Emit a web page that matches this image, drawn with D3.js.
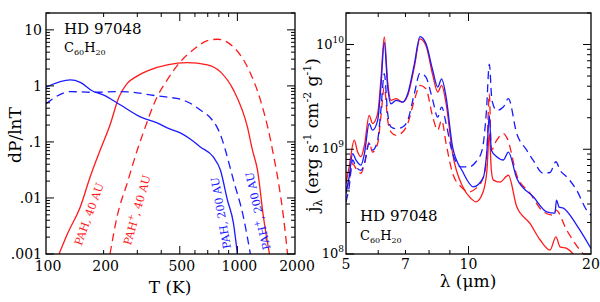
<!DOCTYPE html>
<html>
<head>
<meta charset="utf-8">
<script src="https://cdn.jsdelivr.net/npm/d3@7"></script>
<style>
  body { margin: 0; background: #fff; }
  svg { display: block; }
  text { font-family: "DejaVu Serif", "Liberation Serif", serif; fill: #000; }
</style>
</head>
<body>
<svg id="chart" width="600" height="302"></svg>
<script>
// ---- left panel: dP/lnT vs T ----
var pahNeu40 = [[117,0.001],[130,0.00237],[151,0.0069],[170,0.0237],[192,0.072],[216,0.2],[240,0.62],[265,1.1],[295,1.45],[350,1.93],[430,2.37],[547,2.6],[697,2.37],[815,1.78],[953,0.85],[1128,0.185],[1198,0.072],[1273,0.0316],[1368,0.0046],[1471,0.001]];
var pahIon40 = [[216,0.001],[235,0.0046],[266,0.0187],[300,0.072],[322,0.145],[381,0.64],[430,1.28],[503,2.68],[588,4.4],[697,6.4],[786,6.8],[953,4.97],[1128,2.18],[1319,0.56],[1489,0.109],[1525,0.072],[1640,0.0187],[1741,0.0046],[1828,0.001]];
var pahNeu200 = [[100,0.95],[134,1.28],[151,1.16],[174,0.82],[199,0.69],[244,0.46],[311,0.28],[381,0.218],[430,0.178],[503,0.145],[567,0.113],[640,0.0815],[748,0.054],[815,0.0316],[887,0.0092],[953,0.0036],[1000,0.001]];
var pahIon200 = [[100,0.48],[134,0.79],[176,0.77],[235,0.79],[285,0.77],[350,0.69],[430,0.63],[503,0.58],[567,0.49],[640,0.37],[722,0.27],[786,0.178],[834,0.109],[865,0.072],[953,0.021],[1075,0.0046],[1169,0.001]];

var tempTicks = [100, 200, 500, 1000, 2000];
var tempMinor = [200, 300, 400, 600, 700, 800, 900];
var tempMajor = [500, 1000];
var probTicks = [10, 1, 0.1, 0.01, 0.001];
var probLabels = ["10", "1", ".1", ".01", ".001"];

// ---- right panel: j_lambda vs lambda ----
var specNeu40 = [[5.00,4.71e8],[5.09,6.8e8],[5.24,1.22e9],[5.34,9.4e8],[5.44,8.5e8],[5.55,1.09e9],[5.70,2.11e9],[5.81,1.76e9],[5.98,2.19e9],[6.09,4.54e9],[6.21,1.18e10],[6.33,4.37e9],[6.45,2.93e9],[6.64,3.04e9],[6.89,2.82e9],[7.09,3.27e9],[7.36,6.1e9],[7.60,1.13e10],[7.86,9.8e9],[8.17,5.07e9],[8.40,3.52e9],[8.59,4.07e9],[8.81,2.72e9],[9.14,9.1e8],[9.68,4.38e8],[10.14,3.39e8],[10.43,3.15e8],[10.86,3.9e8],[11.1,6.3e8],[11.25,1.41e9],[11.38,6.3e8],[11.51,5.07e8],[11.95,4.85e8],[12.53,5.65e8],[13.14,2.82e8],[14.16,1.96e8],[15.0,1.36e8],[15.86,1.09e8],[16.4,1.46e8],[16.79,1.17e8],[17.43,1.13e8],[18.07,1.0e8],[18.6,8.4e7]];
var specIon40 = [[5.00,4.07e8],[5.09,5.07e8],[5.19,7.3e8],[5.29,6.55e8],[5.44,5.9e8],[5.55,7.3e8],[5.70,1.17e9],[5.81,9.4e8],[5.98,1.13e9],[6.09,2.03e9],[6.21,3.92e9],[6.33,1.89e9],[6.45,1.46e9],[6.64,1.36e9],[6.89,1.46e9],[7.09,1.76e9],[7.36,2.93e9],[7.60,4.07e9],[7.86,3.78e9],[8.17,2.03e9],[8.40,1.52e9],[8.59,1.89e9],[8.81,1.13e9],[9.14,5.9e8],[9.59,4.38e8],[10.04,3.92e8],[10.43,4.23e8],[10.8,5.07e8],[11.07,7.9e8],[11.25,3.39e9],[11.38,9.8e8],[11.73,1.22e9],[12.18,1.41e9],[12.45,1.27e9],[13.14,5.65e8],[14.16,3.81e8],[15.27,2.53e8],[16.15,2.35e8],[16.4,2.62e8],[17.43,1.69e8],[18.79,1.09e8],[19.14,1.0e8],[19.6,8.5e7]];
var specNeu200 = [[5.00,3.79e8],[5.09,5.45e8],[5.19,9.1e8],[5.29,7.9e8],[5.44,7.05e8],[5.55,9.1e8],[5.70,1.76e9],[5.81,1.52e9],[5.98,1.89e9],[6.09,3.92e9],[6.21,1.05e10],[6.33,3.92e9],[6.45,2.72e9],[6.64,2.93e9],[6.89,2.82e9],[7.09,3.39e9],[7.36,6.5e9],[7.60,1.19e10],[7.86,1.02e10],[8.17,5.65e9],[8.40,3.92e9],[8.59,4.71e9],[8.81,3.15e9],[9.14,1.05e9],[9.68,6.1e8],[10.28,4.38e8],[10.86,5.3e8],[11.1,9.8e8],[11.25,2.11e9],[11.38,9.8e8],[11.73,8.5e8],[12.18,7.9e8],[12.53,9.4e8],[13.14,5.3e8],[14.43,3.52e8],[15.57,2.53e8],[16.31,2.46e8],[16.45,3.27e8],[16.7,2.8e8],[17.10,2.74e8],[18.44,1.89e8],[20,1.13e8]];
var specIon200 = [[5.00,3.15e8],[5.09,4.38e8],[5.19,7.9e8],[5.29,6.8e8],[5.44,6.3e8],[5.55,7.3e8],[5.70,1.13e9],[5.81,9.8e8],[5.98,1.22e9],[6.09,2.35e9],[6.21,5.26e9],[6.33,2.19e9],[6.45,1.63e9],[6.64,1.57e9],[6.89,1.63e9],[7.09,1.89e9],[7.36,3.39e9],[7.60,5.33e9],[7.86,4.88e9],[8.17,2.93e9],[8.40,2.03e9],[8.59,2.53e9],[8.81,1.76e9],[9.14,9.1e8],[9.59,6.8e8],[10.04,6.8e8],[10.43,7.6e8],[10.8,9.8e8],[11.07,2.35e9],[11.25,6.5e9],[11.42,2.93e9],[11.73,2.35e9],[12.18,2.53e9],[12.53,3.04e9],[13.14,1.41e9],[13.90,9.8e8],[14.4,7.9e8],[15.27,5.9e8],[15.86,6.0e8],[16.4,7.6e8],[16.79,6.3e8],[17.43,5.45e8],[18.44,4.07e8],[19.51,2.62e8],[20,2.35e8]];

var lamTicks = [5, 7, 10, 20];
var lamMinor = [6, 7, 8, 9];
var lamMajor = [10];
var jTicks = [1e8, 1e9, 1e10];
var jExp = ["8", "9", "10"];

var red = "#ff1a1a", blue = "#1a1aff";
var svg = d3.select("#chart");

function decadeMinors(lo, hi){
  var out = [];
  for (var d = lo; d < hi; d *= 10){
    for (var k = 2; k <= 9; k++){ if (d*k <= hi) out.push(d*k); }
  }
  return out;
}

function frame(g, x, y, id){
  var x0 = x.range()[0], x1 = x.range()[1], y0 = y.range()[0], y1 = y.range()[1];
  g.append("clipPath").attr("id", id).append("rect")
    .attr("x", x0).attr("y", y1).attr("width", x1-x0).attr("height", y0-y1);
  g.append("rect").attr("x", x0).attr("y", y1).attr("width", x1-x0).attr("height", y0-y1)
    .attr("fill", "none").attr("stroke", "#000").attr("stroke-width", 1.3);
}

function tick(g, x1, y1, x2, y2){
  g.append("line").attr("x1", x1).attr("y1", y1).attr("x2", x2).attr("y2", y2)
    .attr("stroke", "#000").attr("stroke-width", 1);
}

function curves(g, x, y, id, list){
  var line = d3.line().curve(d3.curveMonotoneX)
    .x(function(d){return x(d[0]);}).y(function(d){return y(d[1]);});
  var cg = g.append("g").attr("clip-path", "url(#" + id + ")");
  list.forEach(function(c){
    cg.append("path").datum(c.data).attr("d", line)
      .attr("fill", "none").attr("stroke", c.color).attr("stroke-width", 1.3)
      .attr("stroke-dasharray", c.dash ? "8,5" : null);
  });
}

// ================= LEFT =================
var xT = d3.scaleLog().domain([100, 2000]).range([46, 295]);
var yP = d3.scaleLog().domain([0.001, 20]).range([254, 13]);
var gl = svg.append("g");

curves(gl, xT, yP, "clipL", [
  {data: pahNeu40, color: red, dash: false},
  {data: pahIon40, color: red, dash: true},
  {data: pahNeu200, color: blue, dash: false},
  {data: pahIon200, color: blue, dash: true}
]);
frame(gl, xT, yP, "clipL");

tempMinor.forEach(function(t){
  tick(gl, xT(t), 254, xT(t), 250);
  tick(gl, xT(t), 13, xT(t), 17);
});
tempMajor.forEach(function(t){
  tick(gl, xT(t), 254, xT(t), 246);
  tick(gl, xT(t), 13, xT(t), 21);
});
probTicks.forEach(function(p){
  tick(gl, 46, yP(p), 54, yP(p));
  tick(gl, 295, yP(p), 287, yP(p));
});
decadeMinors(0.001, 20).forEach(function(p){
  tick(gl, 46, yP(p), 50, yP(p));
  tick(gl, 295, yP(p), 291, yP(p));
});

gl.selectAll(".xl").data(tempTicks).enter().append("text")
  .attr("x", function(d){return xT(d) + 2;}).attr("y", 271)
  .attr("text-anchor", "middle").attr("font-size", 14).text(function(d){return d;});
gl.selectAll(".yl").data(probTicks).enter().append("text")
  .attr("x", 42).attr("y", function(d){return yP(d) + 5;})
  .attr("text-anchor", "end").attr("font-size", 14)
  .text(function(d, i){return probLabels[i];});

gl.append("text").attr("x", 170).attr("y", 293).attr("text-anchor", "middle")
  .attr("font-size", 17).text("T (K)");
gl.append("text").attr("transform", "translate(21,135) rotate(-90)")
  .attr("text-anchor", "middle").attr("font-size", 17).text("dP/lnT");

function molecule(g, x, y, big, small){
  var t = g.append("text").attr("x", x).attr("y", y).attr("font-size", big);
  t.append("tspan").text("C");
  t.append("tspan").attr("font-size", small).attr("dy", 3).text("60");
  t.append("tspan").attr("dy", -3).text("H");
  t.append("tspan").attr("font-size", small).attr("dy", 3).text("20");
}
gl.append("text").attr("x", 64).attr("y", 34).attr("font-size", 15).text("HD 97048");
molecule(gl, 64, 52, 13, 8);

var labels = [
  {x: 89, y: 214, a: -70, t: "PAH", sup: "", rest: ", 40 AU", c: red},
  {x: 137, y: 210, a: -74, t: "PAH", sup: "+", rest: ", 40 AU", c: red},
  {x: 221, y: 213, a: -100, t: "PAH", sup: "", rest: ", 200 AU", c: blue},
  {x: 258, y: 211, a: -103, t: "PAH", sup: "+", rest: ", 200 AU", c: blue}
];
labels.forEach(function(l){
  var t = gl.append("text").attr("transform", "translate(" + l.x + "," + l.y + ") rotate(" + l.a + ")")
    .attr("text-anchor", "middle").attr("dy", "0.35em").attr("font-size", 11)
    .style("fill", l.c);
  t.append("tspan").text(l.t);
  if (l.sup) t.append("tspan").attr("font-size", 8).attr("dy", -5).text(l.sup);
  t.append("tspan").attr("dy", l.sup ? 5 : 0).text(l.rest);
});

// ================= RIGHT =================
var xL = d3.scaleLog().domain([5, 20]).range([346, 591]);
var yJ = d3.scaleLog().domain([1e8, 2e10]).range([254, 13]);
var gr = svg.append("g");

curves(gr, xL, yJ, "clipR", [
  {data: specNeu40, color: red, dash: false},
  {data: specIon40, color: red, dash: true},
  {data: specIon200, color: blue, dash: true},
  {data: specNeu200, color: blue, dash: false}
]);
frame(gr, xL, yJ, "clipR");

lamMinor.forEach(function(l){
  tick(gr, xL(l), 254, xL(l), 250);
  tick(gr, xL(l), 13, xL(l), 17);
});
lamMajor.forEach(function(l){
  tick(gr, xL(l), 254, xL(l), 246);
  tick(gr, xL(l), 13, xL(l), 21);
});
jTicks.forEach(function(j){
  tick(gr, 346, yJ(j), 354, yJ(j));
  tick(gr, 591, yJ(j), 583, yJ(j));
});
decadeMinors(1e8, 2e10).forEach(function(j){
  tick(gr, 346, yJ(j), 350, yJ(j));
  tick(gr, 591, yJ(j), 587, yJ(j));
});

gr.selectAll(".xl").data(lamTicks).enter().append("text")
  .attr("x", function(d){return xL(d);}).attr("y", 269)
  .attr("text-anchor", "middle").attr("font-size", 14).text(function(d){return d;});
jTicks.forEach(function(j, i){
  var t = gr.append("text").attr("x", 344).attr("y", yJ(j) + 4)
    .attr("text-anchor", "end").attr("font-size", 13);
  t.append("tspan").text("10");
  t.append("tspan").attr("font-size", 9).attr("dy", -6).text(jExp[i]);
});

var xlab = gr.append("text").attr("x", 468).attr("y", 287).attr("text-anchor", "middle").attr("font-size", 17);
xlab.text("λ (μm)");

var ylab = gr.append("text").attr("transform", "translate(318,135) rotate(-90)")
  .attr("text-anchor", "middle").attr("font-size", 17);
ylab.append("tspan").text("j");
ylab.append("tspan").attr("font-size", 11).attr("dy", 4).text("λ");
ylab.append("tspan").attr("dy", -4).text(" (erg s");
ylab.append("tspan").attr("font-size", 11).attr("dy", -7).text("-1");
ylab.append("tspan").attr("dy", 7).text(" cm");
ylab.append("tspan").attr("font-size", 11).attr("dy", -7).text("-2");
ylab.append("tspan").attr("dy", 7).text(" g");
ylab.append("tspan").attr("font-size", 11).attr("dy", -7).text("-1");
ylab.append("tspan").attr("dy", 7).text(")");

gr.append("text").attr("x", 360).attr("y", 221).attr("font-size", 15).text("HD 97048");
molecule(gr, 360, 240, 13, 8);
</script>
</body>
</html>
